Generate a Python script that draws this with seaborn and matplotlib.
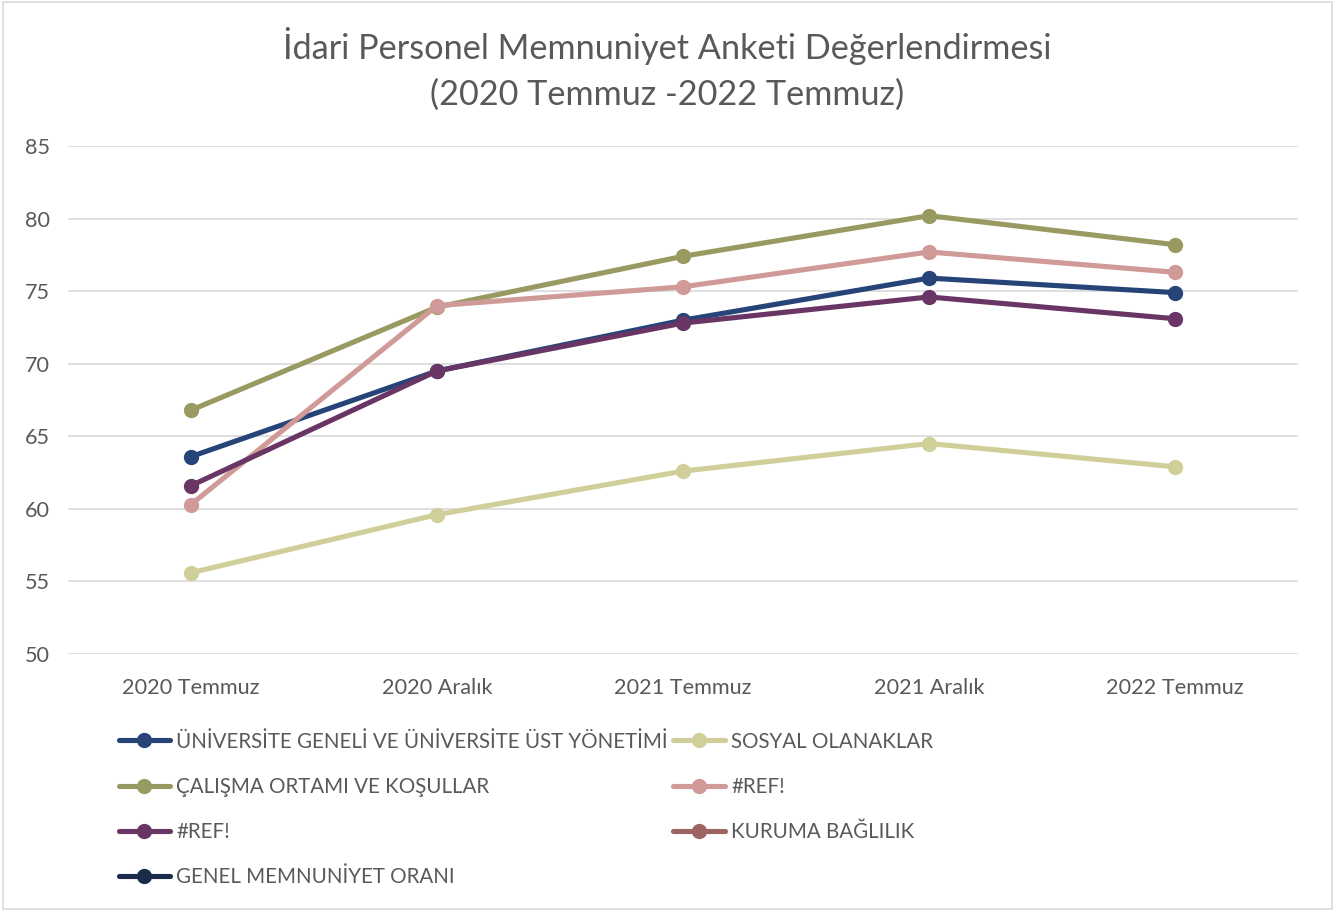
import numpy as np
import matplotlib
matplotlib.use("Agg")
import matplotlib.pyplot as plt
import seaborn as sns
from matplotlib.lines import Line2D
from matplotlib.patches import Rectangle

# --- data ---
categories = ["2020 Temmuz", "2020 Aralık", "2021 Temmuz", "2021 Aralık", "2022 Temmuz"]

universite = [63.6, 69.5, 73.0, 75.9, 74.9]
sosyal = [55.6, 59.6, 62.6, 64.5, 62.9]
calisma = [66.8, 73.9, 77.4, 80.2, 78.2]
ref_pink = [60.3, 74.0, 75.3, 77.7, 76.3]
ref_purple = [61.6, 69.5, 72.8, 74.6, 73.1]
kuruma = [np.nan] * 5   # shown in legend only, no data drawn
genel = [np.nan] * 5    # shown in legend only, no data drawn

series_names = ["ÜNİVERSİTE GENELİ VE ÜNİVERSİTE ÜST YÖNETİMİ", "SOSYAL OLANAKLAR",
                "ÇALIŞMA ORTAMI VE KOŞULLAR", "#REF!", "#REF!",
                "KURUMA BAĞLILIK", "GENEL MEMNUNİYET ORANI"]
series_values = [universite, sosyal, calisma, ref_pink, ref_purple, kuruma, genel]
series_colors = ["#264478", "#D0CF9A", "#999A62", "#D09A99", "#693565", "#9C6462", "#1B2B4B"]

sns.set_theme(style="white")
plt.rcParams['font.family'] = ['Lato', 'DejaVu Sans']
text_col = "#595959"

fig = plt.figure(figsize=(13.35, 9.11), dpi=100)
ax = fig.add_axes([68 / 1335, 1 - 654 / 911, 1230 / 1335, 508 / 911])

xs = np.arange(len(categories))
handles = []
for name, vals, col in zip(series_names, series_values, series_colors):
    vals = np.array(vals, dtype=float)
    if not np.all(np.isnan(vals)):
        sns.lineplot(x=xs, y=vals, ax=ax, color=col, linewidth=3.7,
                     marker="o", markersize=11, markeredgewidth=0, sort=False)
    handles.append(Line2D([0], [0], color=col, linewidth=3.7, marker="o",
                          markersize=11, markeredgewidth=0, label=name))

ax.set_xlim(-0.5, len(categories) - 0.5)
ax.set_ylim(50, 85)
ax.set_yticks(range(50, 86, 5))
ax.set_xticks(xs)
ax.set_xticklabels(categories)
ax.tick_params(axis="both", length=0, labelsize=15.6, labelcolor=text_col)
ax.tick_params(axis="x", pad=17)
ax.yaxis.grid(True, color="#D9D9D9", linewidth=1.2)
ax.xaxis.grid(False)
for s in ax.spines.values():
    s.set_visible(False)
ax.set_xlabel("")
ax.set_ylabel("")
for lab in ax.get_yticklabels():
    lab.set_horizontalalignment("left")
ax.tick_params(axis="y", pad=31)

fig.text(0.5, 1 - 68.5 / 911, "İdari Personel Memnuniyet Anketi Değerlendirmesi\n(2020 Temmuz -2022 Temmuz)",
         ha="center", va="center", fontsize=24.7, color=text_col, linespacing=1.52)

# legend filled row by row in the reference; matplotlib fills by column
order = [0, 2, 4, 6, 1, 3, 5]
leg = fig.legend([handles[i] for i in order], [series_names[i] for i in order],
                 ncol=2, loc="upper left", bbox_to_anchor=(100 / 1335, 1 - 713 / 911),
                 frameon=False, fontsize=14.8, handlelength=2.5, handletextpad=0.3,
                 columnspacing=0.28, labelspacing=1.23)
for t in leg.get_texts():
    t.set_color(text_col)

fig.patches.append(Rectangle((0.002, 0.002), 0.996, 0.996, transform=fig.transFigure,
                             fill=False, edgecolor="#D9D9D9", linewidth=1.2))

fig.savefig("out.png", dpi=100)
